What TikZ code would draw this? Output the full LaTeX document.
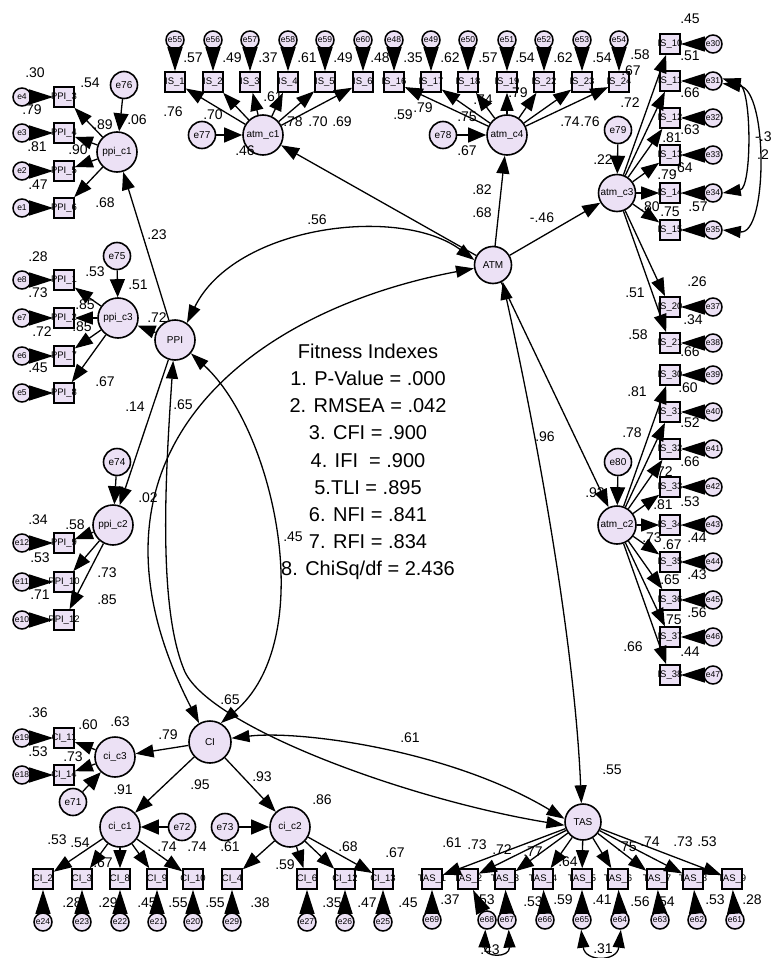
\documentclass[tikz,border=0pt]{standalone}
\usepackage{fontspec}
\setmainfont{Liberation Sans}
\usetikzlibrary{arrows.meta}
\definecolor{lav}{RGB}{236,225,245}
\newcounter{lbc}
\newcommand\lb[3]{\stepcounter{lbc}\node[num] (lab\arabic{lbc}) at (#1,#2) {#3};}
\newcommand\mkbox[4]{\node[obs] (#1) at (#2,#3) {\makebox[0pt]{#4}};}
\newcommand\mkerr[3]{\node[err] (#1) at (#2,#3) {#1};}
\begin{document}
\begin{tikzpicture}[x=1pt,y=-1pt,
  lat/.style={circle,draw,line width=1.6pt,fill=lav,inner sep=0pt,minimum size=40pt,font=\fontsize{10}{10}\selectfont},
  errb/.style={circle,draw,line width=1.6pt,fill=lav,inner sep=0pt,minimum size=27pt,font=\fontsize{10}{10}\selectfont},
  err/.style={circle,draw,line width=1.5pt,fill=lav,inner sep=0pt,minimum size=18pt,font=\fontsize{8.5}{8.5}\selectfont},
  obs/.style={rectangle,draw,line width=1.6pt,fill=lav,inner sep=0pt,minimum size=20pt,font=\fontsize{9.5}{9.5}\selectfont},
  num/.style={inner sep=0pt,font=\fontsize{14}{14}\selectfont},
  ld/.style={line width=1.3pt,-{Triangle[length=18pt,width=13pt]}},
  ea/.style={line width=1.3pt,-{Triangle[length=24pt,width=15pt]}},
  eb/.style={line width=1.3pt,-{Triangle[length=18pt,width=15pt]}},
  cov/.style={line width=1.3pt,{Triangle[length=18pt,width=12pt]}-{Triangle[length=18pt,width=12pt]}},
]
\useasboundingbox[fill=white] (0,0) rectangle (771,958);

% ---------- PPI block ----------
\mkerr{e4}{22}{97} \mkerr{e3}{22}{133} \mkerr{e2}{22}{171} \mkerr{e1}{22}{208}
\mkbox{p3}{64}{97}{PPI\_3} \mkbox{p4}{64}{133}{PPI\_4} \mkbox{p5}{64}{171}{PPI\_5} \mkbox{p6}{64}{208}{PPI\_6}
\node[lat] (ppic1) at (117,152) {ppi\_c1};
\node[errb] (e76) at (124,85) {e76};

\mkerr{e8}{22}{280} \mkerr{e7}{22}{318} \mkerr{e6}{22}{356} \mkerr{e5}{22}{393}
\mkbox{p1}{64}{280}{PPI\_1} \mkbox{p2}{64}{318}{PPI\_2} \mkbox{p7}{64}{356}{PPI\_7} \mkbox{p8}{64}{393}{PPI\_8}
\node[lat] (ppic3) at (118,318) {ppi\_c3};
\node[errb] (e75) at (117,256) {e75};

\node[lat] (PPI) at (175,340) {PPI};

\mkerr{e12}{22}{543} \mkerr{e11}{22}{582} \mkerr{e10}{22}{620}
\mkbox{p9}{64}{543}{PPI\_9} \mkbox{p10}{64}{582}{PPI\_10} \mkbox{p12}{64}{620}{PPI\_12}
\node[lat] (ppic2) at (113,525) {ppi\_c2};
\node[errb] (e74) at (117,462) {e74};

% ---------- CI block ----------
\mkerr{e19}{22}{738} \mkerr{e18}{22}{775}
\mkbox{c11}{64}{738}{CI\_11} \mkbox{c14}{64}{775}{CI\_14}
\node[lat] (cic3) at (115,757) {ci\_c3};
\node[errb] (e71) at (73,802) {e71};
\node[lat,minimum size=42pt] (CI) at (210,742) {CI};
\node[lat] (cic1) at (120,827) {ci\_c1};
\node[errb] (e72) at (182,827) {e72};
\node[lat] (cic2) at (290,827) {ci\_c2};
\node[errb] (e73) at (225,827) {e73};
\mkbox{c2}{43}{879}{CI\_2} \mkbox{c3}{82}{879}{CI\_3} \mkbox{c8}{120}{879}{CI\_8} \mkbox{c9}{157}{879}{CI\_9} \mkbox{c10}{193}{879}{CI\_10}
\mkbox{c4}{232}{879}{CI\_4} \mkbox{c6}{307}{879}{CI\_6} \mkbox{c12}{345}{879}{CI\_12} \mkbox{c13}{383}{879}{CI\_13}
\mkerr{e24}{43}{922} \mkerr{e23}{82}{922} \mkerr{e22}{120}{922} \mkerr{e21}{157}{922} \mkerr{e20}{193}{922}
\mkerr{e29}{232}{922} \mkerr{e27}{307}{922} \mkerr{e26}{345}{922} \mkerr{e25}{383}{922}

% ---------- TAS block ----------
\node[lat,minimum size=36pt] (TAS) at (583,822) {TAS};
\mkbox{t1}{432}{879}{TAS\_1} \mkbox{t2}{468}{879}{TAS\_2} \mkbox{t3}{505}{879}{TAS\_3}
\mkbox{t4}{543}{879}{TAS\_4} \mkbox{t5}{582}{879}{TAS\_5} \mkbox{t6}{618}{879}{TAS\_6}
\mkbox{t7}{657}{879}{TAS\_7} \mkbox{t8}{693}{879}{TAS\_8} \mkbox{t9}{732}{879}{TAS\_9}
\mkerr{e69}{432}{920} \mkerr{e68}{487}{920} \mkerr{e67}{507}{920} \mkerr{e66}{545}{920} \mkerr{e65}{582}{920}
\mkerr{e64}{620}{920} \mkerr{e63}{660}{920} \mkerr{e62}{697}{920} \mkerr{e61}{735}{920}

% ---------- ATM block ----------
\mkerr{e55}{175}{40} \mkerr{e56}{213}{40} \mkerr{e57}{250}{40} \mkerr{e58}{288}{40} \mkerr{e59}{325}{40} \mkerr{e60}{363}{40}
\mkerr{e48}{394}{40} \mkerr{e49}{431}{40} \mkerr{e50}{468}{40} \mkerr{e51}{507}{40} \mkerr{e52}{544}{40} \mkerr{e53}{582}{40} \mkerr{e54}{619}{40}
\mkbox{i1}{175}{82}{IS\_1} \mkbox{i2}{213}{82}{IS\_2} \mkbox{i3}{250}{82}{IS\_3} \mkbox{i4}{288}{82}{IS\_4} \mkbox{i5}{325}{82}{IS\_5} \mkbox{i6}{363}{82}{IS\_6}
\mkbox{i16}{394}{82}{IS\_16} \mkbox{i17}{431}{82}{IS\_17} \mkbox{i18}{468}{82}{IS\_18} \mkbox{i19}{507}{82}{IS\_19}
\mkbox{i22}{544}{82}{IS\_22} \mkbox{i23}{582}{82}{IS\_23} \mkbox{i24}{619}{82}{IS\_24}
\node[lat] (atmc1) at (263,135) {atm\_c1};
\node[errb] (e77) at (202,135) {e77};
\node[lat] (atmc4) at (507,135) {atm\_c4};
\node[errb] (e78) at (443,135) {e78};
\node[lat,minimum size=37pt] (ATM) at (493,265) {ATM};
\node[lat,minimum size=37pt] (atmc3) at (617,193) {atm\_c3};
\node[errb] (e79) at (618,130) {e79};
\node[lat,minimum size=38pt] (atmc2) at (617,525) {atm\_c2};
\node[errb] (e80) at (618,462) {e80};

\mkbox{r10}{670}{44}{IS\_10} \mkbox{r11}{670}{81}{IS\_11} \mkbox{r12}{670}{118}{IS\_12} \mkbox{r13}{670}{155}{IS\_13}
\mkbox{r14}{670}{193}{IS\_14} \mkbox{r15}{670}{230}{IS\_15} \mkbox{r20}{670}{307}{IS\_20} \mkbox{r21}{670}{343}{IS\_21}
\mkbox{r30}{670}{375}{IS\_30} \mkbox{r31}{670}{412}{IS\_31} \mkbox{r32}{670}{449}{IS\_32} \mkbox{r33}{670}{487}{IS\_33}
\mkbox{r34}{670}{525}{IS\_34} \mkbox{r35}{670}{562}{IS\_35} \mkbox{r36}{670}{600}{IS\_36} \mkbox{r37}{670}{637}{IS\_37} \mkbox{r38}{670}{675}{IS\_38}
\mkerr{e30}{713}{44} \mkerr{e31}{713}{81} \mkerr{e32}{713}{118} \mkerr{e33}{713}{155} \mkerr{e34}{713}{193} \mkerr{e35}{713}{230}
\mkerr{e37}{713}{307} \mkerr{e38}{713}{343} \mkerr{e39}{713}{375} \mkerr{e40}{713}{412} \mkerr{e41}{713}{449}
\mkerr{e42}{713}{487} \mkerr{e43}{713}{525} \mkerr{e44}{713}{562} \mkerr{e45}{713}{600} \mkerr{e46}{713}{637} \mkerr{e47}{713}{675}

% ---------- fitness text ----------
\node[align=center,inner sep=0pt,font=\fontsize{20}{27.2}\selectfont] (fit) at (368,462)
 {Fitness Indexes\\1. P-Value = .000\\2. RMSEA = .042\\3. CFI = .900\\4. IFI~ = .900\\5.TLI = .895\\6. NFI = .841\\7. RFI = .834\\8. ChiSq/df = 2.436};

% ---------- measurement arrows ----------
\foreach \e/\b in {e4/p3,e3/p4,e2/p5,e1/p6,e8/p1,e7/p2,e6/p7,e5/p8,e12/p9,e11/p10,e10/p12,e19/c11,e18/c14,
  e24/c2,e23/c3,e22/c8,e21/c9,e20/c10,e29/c4,e27/c6,e26/c12,e25/c13,
  e69/t1,e68/t2,e67/t3,e66/t4,e65/t5,e64/t6,e63/t7,e62/t8,e61/t9,
  e55/i1,e56/i2,e57/i3,e58/i4,e59/i5,e60/i6,e48/i16,e49/i17,e50/i18,e51/i19,e52/i22,e53/i23,e54/i24,
  e30/r10,e31/r11,e32/r12,e33/r13,e34/r14,e35/r15,e37/r20,e38/r21,e39/r30,e40/r31,e41/r32,e42/r33,
  e43/r34,e44/r35,e45/r36,e46/r37,e47/r38}
  \draw[ea] (\e) -- (\b);
\foreach \l/\b in {ppic1/p3,ppic1/p4,ppic1/p5,ppic1/p6,ppic3/p1,ppic3/p2,ppic3/p7,ppic3/p8,ppic2/p9,ppic2/p10,ppic2/p12,
  cic3/c11,cic3/c14,cic1/c2,cic1/c3,cic1/c8,cic1/c9,cic1/c10,cic2/c4,cic2/c6,cic2/c12,cic2/c13,
  TAS/t1,TAS/t2,TAS/t3,TAS/t4,TAS/t5,TAS/t6,TAS/t7,TAS/t8,TAS/t9,
  atmc1/i1,atmc1/i2,atmc1/i3,atmc1/i4,atmc1/i5,atmc1/i6,atmc4/i16,atmc4/i17,atmc4/i18,atmc4/i19,atmc4/i22,atmc4/i23,atmc4/i24,
  atmc3/r10,atmc3/r11,atmc3/r12,atmc3/r13,atmc3/r14,atmc3/r15,atmc3/r20,atmc3/r21,
  atmc2/r30,atmc2/r31,atmc2/r32,atmc2/r33,atmc2/r34,atmc2/r35,atmc2/r36,atmc2/r37,atmc2/r38,
  PPI/ppic1,PPI/ppic3,PPI/ppic2,CI/cic3,CI/cic1,CI/cic2,ATM/atmc1,ATM/atmc4,ATM/atmc3,ATM/atmc2}
  \draw[ld] (\l) -- (\b);
\foreach \e/\l in {e76/ppic1,e75/ppic3,e74/ppic2,e71/cic3,e72/cic1,e73/cic2,e77/atmc1,e78/atmc4,e79/atmc3,e80/atmc2}
  \draw[eb] (\e) -- (\l);

% ---------- covariances ----------
\draw[cov] (PPI.55) .. controls (235,225) and (400,205) .. (ATM.165);
\draw[cov] (ATM.190) .. controls (248,311) and (61,455) .. (CI.120);
\draw[cov] (PPI.-40) .. controls (275,430) and (320,640) .. (CI.60);
\draw[cov] (PPI.-95) .. controls (165,480) and (158,610) .. (185,672) .. controls (212,728) and (410,800) .. (TAS.190);
\draw[cov] (ATM.-60) .. controls (540,450) and (575,650) .. (TAS.95);
\draw[cov] (CI.10) .. controls (300,730) and (450,750) .. (TAS.170);
\draw[cov] (e31.15) .. controls (752,88) and (752,188) .. (e34.0);
\draw[cov] (e31.-15) .. controls (768,90) and (768,235) .. (e35.0);
\draw[cov] (e68.-100) .. controls (484,958) and (510,958) .. (e67.-80);
\draw[cov] (e65.-95) .. controls (585,962) and (617,962) .. (e64.-85);

% ---------- numbers ----------
\lb{35}{73}{.30} \lb{90}{83}{.54} \lb{32}{110}{.79} \lb{103}{125}{.89} \lb{137}{120}{.06}
\lb{37}{147}{.81} \lb{78}{150}{.90} \lb{38}{185}{.47} \lb{105}{203}{.68} \lb{157}{235}{.23}
\lb{38}{257}{.28} \lb{95}{272}{.53} \lb{138}{285}{.51} \lb{38}{293}{.73} \lb{85}{305}{.85}
\lb{82}{327}{.85} \lb{42}{332}{.72} \lb{157}{318}{.72} \lb{38}{368}{.45} \lb{105}{382}{.67}
\lb{135}{407}{.14} \lb{183}{405}{.65}
\lb{148}{498}{.02} \lb{38}{520}{.34} \lb{75}{525}{.58} \lb{40}{558}{.53} \lb{107}{573}{.73} \lb{40}{595}{.71} \lb{107}{600}{.85}
\lb{38}{713}{.36} \lb{88}{725}{.60} \lb{120}{722}{.63} \lb{168}{735}{.79} \lb{38}{752}{.53} \lb{73}{757}{.73} \lb{123}{790}{.91} \lb{200}{785}{.95}
\lb{57}{840}{.53} \lb{80}{843}{.54} \lb{103}{863}{.67} \lb{167}{847}{.74} \lb{197}{847}{.74}
\lb{72}{903}{.28} \lb{108}{903}{.29} \lb{147}{903}{.45} \lb{178}{903}{.55} \lb{215}{903}{.55}
\lb{262}{777}{.93} \lb{322}{800}{.86} \lb{230}{847}{.61} \lb{285}{865}{.59} \lb{348}{847}{.68} \lb{395}{853}{.67}
\lb{260}{903}{.38} \lb{332}{903}{.35} \lb{367}{903}{.47} \lb{408}{903}{.45}
\lb{230}{700}{.65} \lb{410}{738}{.61} \lb{612}{770}{.55} \lb{293}{537}{.45} \lb{317}{220}{.56}
\lb{545}{437}{.96} \lb{542}{218}{-.46} \lb{482}{213}{.68} \lb{482}{190}{.82}
\lb{452}{843}{.61} \lb{477}{845}{.73} \lb{502}{850}{.72} \lb{533}{852}{.77} \lb{568}{862}{.64}
\lb{627}{847}{.75} \lb{650}{842}{.74} \lb{683}{842}{.73} \lb{707}{842}{.53}
\lb{450}{900}{.37} \lb{485}{900}{.53} \lb{533}{902}{.53} \lb{563}{900}{.59} \lb{602}{900}{.41}
\lb{640}{902}{.56} \lb{665}{902}{.54} \lb{715}{900}{.53} \lb{752}{900}{.28}
\lb{490}{950}{.43} \lb{603}{949}{.31}
\lb{193}{58}{.57} \lb{232}{58}{.49} \lb{268}{58}{.37} \lb{307}{58}{.61} \lb{343}{58}{.49} \lb{380}{58}{.48} \lb{413}{58}{.35}
\lb{450}{58}{.62} \lb{488}{58}{.57} \lb{525}{58}{.54} \lb{563}{58}{.62} \lb{602}{58}{.54} \lb{640}{55}{.58}
\lb{173}{112}{.76} \lb{213}{115}{.70} \lb{273}{97}{.61} \lb{293}{122}{.78} \lb{318}{122}{.70} \lb{342}{122}{.69}
\lb{403}{115}{.59} \lb{423}{108}{.79} \lb{467}{117}{.75} \lb{483}{100}{.74} \lb{518}{93}{.79} \lb{570}{122}{.74} \lb{590}{122}{.76}
\lb{245}{151}{.46} \lb{467}{151}{.67}
\lb{690}{19}{.45} \lb{631}{71}{.67} \lb{690}{56}{.51} \lb{630}{103}{.72} \lb{690}{93}{.66} \lb{672}{138}{.81} \lb{690}{130}{.63}
\lb{667}{175}{.79} \lb{683}{168}{.64} \lb{650}{207}{.80} \lb{670}{212}{.75} \lb{698}{207}{.57} \lb{603}{160}{.22}
\lb{697}{282}{.26} \lb{635}{293}{.51} \lb{693}{320}{.34} \lb{638}{335}{.58} \lb{690}{352}{.66} \lb{637}{392}{.81} \lb{688}{388}{.60}
\lb{632}{433}{.78} \lb{690}{423}{.52} \lb{690}{462}{.66} \lb{663}{472}{.72} \lb{663}{505}{.81} \lb{690}{502}{.53} \lb{595}{493}{.93}
\lb{652}{538}{.73} \lb{672}{545}{.67} \lb{697}{538}{.44} \lb{670}{580}{.65} \lb{697}{575}{.43} \lb{672}{620}{.75} \lb{697}{613}{.56}
\lb{690}{652}{.44} \lb{633}{647}{.66}
\node[num,anchor=west] (cv1) at (755,137) {-.3};
\node[num,anchor=west] (cv2) at (757,155) {.2};
\end{tikzpicture}
\end{document}
